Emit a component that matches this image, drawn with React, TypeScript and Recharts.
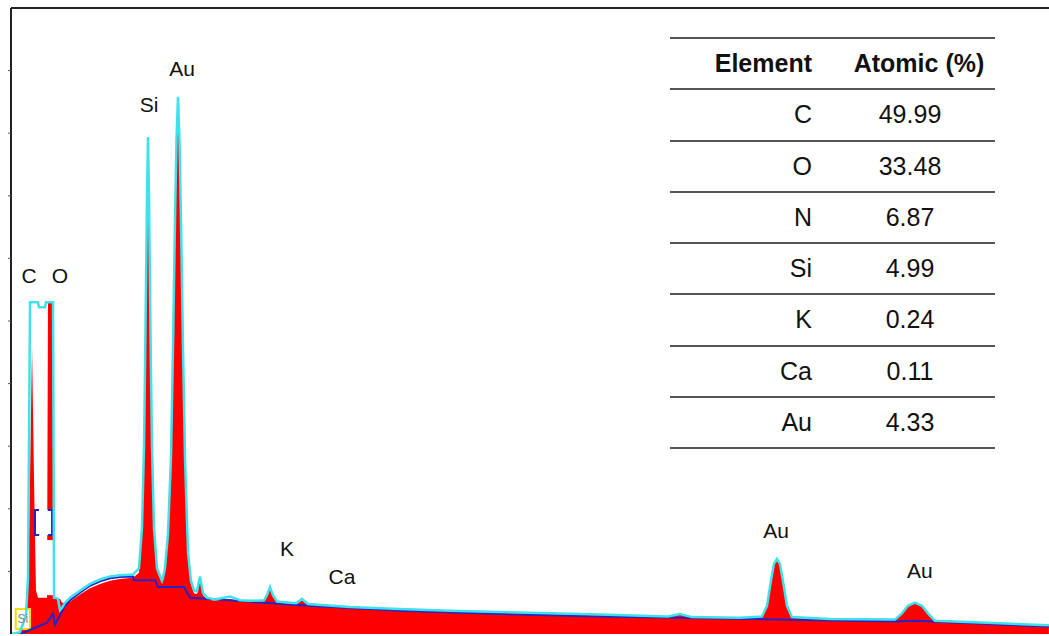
import {
  ComposedChart,
  Area,
  Line,
  XAxis,
  YAxis,
  ReferenceLine,
  ReferenceDot,
  ReferenceArea,
} from 'recharts';

// EDS spectrum, energy in keV, counts in axis units (0..10)
const energy = [
  0.0, 0.114, 0.19, 0.215, 0.241, 0.266, 0.291, 0.316, 0.342, 0.355, 0.43, 0.443, 0.456, 0.468, 0.532, 0.545,
  0.557, 0.595, 0.62, 0.646, 0.684, 0.747, 0.873, 1.0, 1.127, 1.253, 1.38, 1.544,
  1.62, 1.658, 1.684, 1.696, 1.709, 1.722, 1.734, 1.747, 1.759, 1.772, 1.785, 1.81, 1.848, 1.911,
  1.924, 1.949, 1.987, 2.025, 2.051, 2.076, 2.095, 2.114, 2.133, 2.152, 2.177, 2.203, 2.241, 2.278, 2.316,
  2.354, 2.392, 2.43, 2.481, 2.582, 2.772, 2.9, 3.025, 3.203, 3.241, 3.278, 3.316, 3.367, 3.532, 3.608,
  3.684, 3.759, 4.291, 4.924, 5.557, 6.19, 6.823, 7.456, 8.316, 8.468, 8.62, 9.228, 9.506, 9.57, 9.62,
  9.658, 9.696, 9.734, 9.772, 9.823, 9.886, 10.367, 11.19, 11.278, 11.354, 11.443, 11.532, 11.608, 11.696,
  12.519, 13.139,
];
const counts = [
  0, 0.03, 0.3, 0.7, 2.5, 4.6, 2.5, 0.7, 0.58, 0.58, 0.58, 0.58, 0.58, 5.3, 5.3, 0.58,
  0.58, 0.56, 0.56, 0.5, 0.5, 0.52, 0.63, 0.73, 0.8, 0.85, 0.88, 0.9,
  0.98, 1.65, 2.95, 4.15, 5.55, 6.95, 7.9, 6.95, 5.55, 4.15, 2.95, 1.65, 1.0, 0.82,
  0.85, 1.0, 1.55, 2.75, 4.55, 6.55, 7.85, 8.5, 7.85, 6.55, 4.55, 2.75, 1.25, 0.8, 0.65,
  0.64, 0.88, 0.62, 0.55, 0.53, 0.56, 0.52, 0.52, 0.52, 0.6, 0.73, 0.6, 0.5, 0.48, 0.47,
  0.54, 0.46, 0.42, 0.39, 0.36, 0.34, 0.32, 0.3, 0.27, 0.31, 0.26, 0.25, 0.27, 0.44, 0.84,
  1.11, 1.19, 1.11, 0.84, 0.44, 0.26, 0.23, 0.22, 0.32, 0.44, 0.49, 0.44, 0.32, 0.2,
  0.16, 0.13,
];
const fit = [
  0, 0.03, 0.3, 0.9, 5.3, 5.3, 5.3, 5.3, 5.3, 5.22, 5.22, 5.3, 5.3, 5.3, 5.3, 0.58,
  0.58, 0.56, 0.38, 0.42, 0.5, 0.58, 0.69, 0.8, 0.87, 0.92, 0.94, 0.95,
  1.05, 1.7, 3.0, 4.2, 5.6, 7.0, 7.94, 7.0, 5.6, 4.2, 3.0, 1.7, 1.05, 0.85,
  0.9, 1.05, 1.6, 2.8, 4.6, 6.6, 7.9, 8.58, 7.9, 6.6, 4.6, 2.8, 1.3, 0.85, 0.7,
  0.68, 0.92, 0.66, 0.58, 0.55, 0.6, 0.54, 0.53, 0.54, 0.62, 0.75, 0.62, 0.52, 0.5, 0.49,
  0.56, 0.48, 0.43, 0.4, 0.37, 0.35, 0.33, 0.31, 0.28, 0.32, 0.27, 0.26, 0.28, 0.45, 0.85,
  1.12, 1.2, 1.12, 0.85, 0.45, 0.27, 0.24, 0.23, 0.33, 0.45, 0.5, 0.45, 0.33, 0.21,
  0.17, 0.14,
];

// background (bremsstrahlung) line
const bgEnergy = [
  0.114, 0.304, 0.456, 0.532, 0.557, 0.62, 0.684, 0.747, 0.873, 1.0, 1.127, 1.253, 1.38, 1.544, 1.557, 1.823,
  1.861, 2.19, 2.266, 2.772, 3.658, 4.924, 6.19, 7.456, 8.468, 9.696, 11.19, 11.443, 12.519, 13.139,
];
const bgCounts = [
  0, 0.1, 0.18, 0.33, 0.15, 0.3, 0.45, 0.54, 0.66, 0.77, 0.84, 0.89, 0.91, 0.92, 0.86, 0.86,
  0.75, 0.75, 0.58, 0.54, 0.46, 0.37, 0.32, 0.28, 0.26, 0.23, 0.2, 0.21, 0.15, 0.12,
];

const peakNames = ['C', 'O', 'Si', 'Au', 'K', 'Ca', 'Au', 'Au'];
const peakLabelEnergy = [0.228, 0.62, 1.747, 2.165, 3.494, 4.19, 9.684, 11.506];
const peakLabelHeight = [5.72, 5.72, 8.45, 9.03, 1.36, 0.92, 1.66, 1.01];

const yTicks = [1, 2, 3, 4, 5, 6, 7, 8, 9];

const elements = ['C', 'O', 'N', 'Si', 'K', 'Ca', 'Au'];
const atomic = ['49.99', '33.48', '6.87', '4.99', '0.24', '0.11', '4.33'];

const spectrum = energy.map((e, i) => ({ e, counts: counts[i], fit: fit[i] }));
const background = bgEnergy.map((e, i) => ({ e, bg: bgCounts[i] }));

const ROW = 51.25;
const TABLE_TOP = 38;

function AtomicTable() {
  const lines = Array.from({ length: elements.length + 2 }, (_, i) => TABLE_TOP + i * ROW);
  const cell = { position: 'absolute' as const, height: ROW, lineHeight: `${ROW}px`, fontSize: 25, color: '#111' };
  return (
    <>
      {lines.map((y) => (
        <div key={y} style={{ position: 'absolute', left: 670, width: 325, top: y - 1, height: 0, borderTop: '2px solid #555' }} />
      ))}
      <div style={{ ...cell, top: TABLE_TOP, left: 670, width: 142, textAlign: 'right', fontWeight: 'bold' }}>Element</div>
      <div style={{ ...cell, top: TABLE_TOP, left: 849, width: 140, textAlign: 'center', fontWeight: 'bold' }}>Atomic (%)</div>
      {elements.map((el, i) => (
        <div key={el}>
          <div style={{ ...cell, top: TABLE_TOP + (i + 1) * ROW, left: 670, width: 142, textAlign: 'right' }}>{el}</div>
          <div style={{ ...cell, top: TABLE_TOP + (i + 1) * ROW, left: 850, width: 120, textAlign: 'center' }}>{atomic[i]}</div>
        </div>
      ))}
    </>
  );
}

export default function App() {
  return (
    <div
      style={{
        position: 'absolute',
        left: 0,
        top: 0,
        width: 1049,
        height: 636,
        overflow: 'hidden',
        background: '#fff',
        fontFamily: '"Liberation Sans", Arial, sans-serif',
      }}
    >
      <ComposedChart width={1049} height={636} data={spectrum} margin={{ top: 8, right: 0, bottom: 2, left: 0 }}>
        <XAxis dataKey="e" type="number" domain={[0, 13.14]} allowDataOverflow hide />
        <YAxis
          type="number"
          domain={[0, 10]}
          ticks={yTicks}
          width={11}
          tickSize={3}
          tick={() => <g />}
          axisLine={{ stroke: '#222', strokeWidth: 2 }}
          tickLine={{ stroke: '#555' }}
          allowDataOverflow
        />
        <ReferenceLine y={10} stroke="#222" strokeWidth={2} />
        <Area
          dataKey="counts"
          type="linear"
          fill="#ff0000"
          fillOpacity={1}
          stroke="none"
          isAnimationActive={false}
        />
        <Line
          data={background}
          dataKey="bg"
          type="linear"
          stroke="#2323c8"
          strokeWidth={2}
          dot={false}
          isAnimationActive={false}
        />
        <Line dataKey="fit" type="linear" stroke="#3ee2ea" strokeWidth={2.5} dot={false} isAnimationActive={false} />
        {/* gap under the clipped O peak */}
        <ReferenceArea x1={0.45} x2={0.56} y1={0.62} y2={1.5} fill="#fff" fillOpacity={1} stroke="none" />
        <ReferenceArea
          x1={0.06}
          x2={0.24}
          y1={0.08}
          y2={0.4}
          fill="#fff"
          fillOpacity={1}
          stroke="#f0e000"
          strokeWidth={2}
          label={{ value: 'Si', fontSize: 12, fill: '#888', position: 'center' }}
        />
        <ReferenceArea
          x1={0.304}
          x2={0.52}
          y1={1.58}
          y2={1.98}
          fill="#fff"
          fillOpacity={1}
          stroke="#2323c8"
          strokeWidth={2}
          strokeDasharray="4 9 33 9 29 0"
        />
        {peakNames.map((name, i) => (
          <ReferenceDot
            key={`${name}-${i}`}
            x={peakLabelEnergy[i]}
            y={peakLabelHeight[i]}
            r={0}
            fill="none"
            stroke="none"
            label={{ value: name, position: 'center', fontSize: 21, fill: '#111' }}
          />
        ))}
      </ComposedChart>
      <AtomicTable />
    </div>
  );
}
